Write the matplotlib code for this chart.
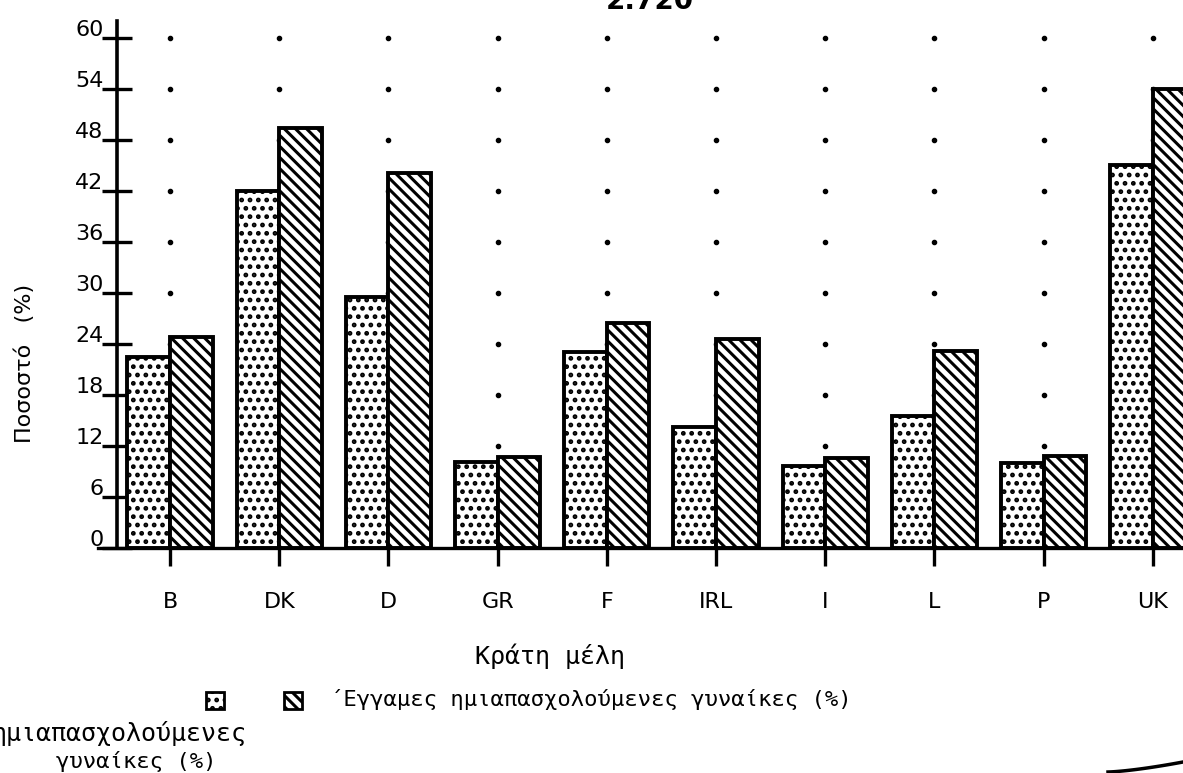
import numpy as np
import matplotlib
matplotlib.use("Agg")
import matplotlib.pyplot as plt
from matplotlib.patches import Rectangle
from matplotlib.lines import Line2D
from matplotlib.transforms import ScaledTranslation

# Member states and part-time shares (%)
countries = ["B", "DK", "D", "GR", "F", "IRL", "I", "L", "P", "UK"]
all_women = [22.5, 42.0, 29.5, 10.1, 23.1, 14.2, 9.6, 15.5, 10.0, 45.1]
married_women = [24.8, 49.4, 44.1, 10.7, 26.5, 24.6, 10.6, 23.2, 10.8, 54.0]
y_ticks = [0, 6, 12, 18, 24, 30, 36, 42, 48, 54, 60]

plt.rcParams["hatch.linewidth"] = 2.2
plt.rcParams["hatch.color"] = "black"

W, H = 1183, 773
fig = plt.figure(figsize=(W / 100, H / 100), dpi=100)
ax = fig.add_axes([98 / W, (H - 548) / H, 1 - 98 / W, 527 / H])

x = np.arange(len(countries))
bw = 0.39

# faint dot grid at every category and tick level
gx, gy = np.meshgrid(x, y_ticks[1:])
ax.plot(gx.ravel(), gy.ravel(), "o", color="black", markersize=3.0, zorder=1)

ax.bar(x - bw / 2, all_women, bw, facecolor="white", edgecolor="black",
       linewidth=2.8, hatch="..", zorder=2)
ax.bar(x + bw / 2, married_women, bw, facecolor="white", edgecolor="black",
       linewidth=2.8, hatch="\\\\\\", zorder=2)

ax.set_xlim(-0.66, (W - 170) / 109.2)
ax.set_ylim(0, 62)
for s in ["top", "right"]:
    ax.spines[s].set_visible(False)
ax.spines["left"].set_position(("data", -0.485))
ax.spines["left"].set_linewidth(2.6)
ax.spines["bottom"].set_linewidth(2.4)

ax.set_yticks(y_ticks)
ax.set_yticklabels([str(v) for v in y_ticks], fontsize=16, family="DejaVu Sans")
ax.tick_params(axis="y", direction="inout", length=22, width=2.4, pad=1)
off = ScaledTranslation(0.03, 0.10, fig.dpi_scale_trans)
for lab in ax.get_yticklabels():
    lab.set_transform(lab.get_transform() + off)

ax.set_xticks(x)
ax.set_xticklabels(countries, fontsize=16, family="DejaVu Sans")
ax.tick_params(axis="x", direction="out", length=13, width=2.4, pad=19)

mono = "DejaVu Sans Mono"
fig.text(25 / W, 1 - 363 / H, "Ποσοστό   (%)", rotation=90, ha="center",
         va="center", fontsize=16, family="DejaVu Sans")
fig.text(550 / W, 1 - 656 / H, "Κράτη μέλη", ha="center", va="center",
         fontsize=18, family=mono)
fig.text(650 / W, 1 - 9 / H, "2.720", ha="center", va="baseline",
         fontsize=20, weight="bold", family="DejaVu Sans")

# hand-made legend under the axis
for x0, hatch in [(206, ".."), (284, "\\\\\\")]:
    fig.add_artist(Rectangle((x0 / W, 1 - 709 / H), 18 / W, 17 / H,
                             transform=fig.transFigure, facecolor="white",
                             edgecolor="black", linewidth=2.0, hatch=hatch))
fig.text(330 / W, 1 - 700 / H, "΄Εγγαμες ημιαπασχολούμενες γυναίκες (%)",
         ha="left", va="center", fontsize=16, family=mono)
fig.text(247 / W, 1 - 733 / H, "ημιαπασχολούμενες", ha="right", va="center",
         fontsize=18, family=mono)
fig.text(136 / W, 1 - 762 / H, "γυναίκες (%)", ha="center", va="center",
         fontsize=16, family=mono)

# curled page edge in the lower right corner
cx = np.linspace(1108, 1183, 30)
cy = 772 - 10 * ((cx - 1108) / 75) ** 1.4
fig.add_artist(Line2D(cx / W, 1 - cy / H, transform=fig.transFigure,
                      color="black", linewidth=2.5))

fig.savefig("out.png", dpi=100)
